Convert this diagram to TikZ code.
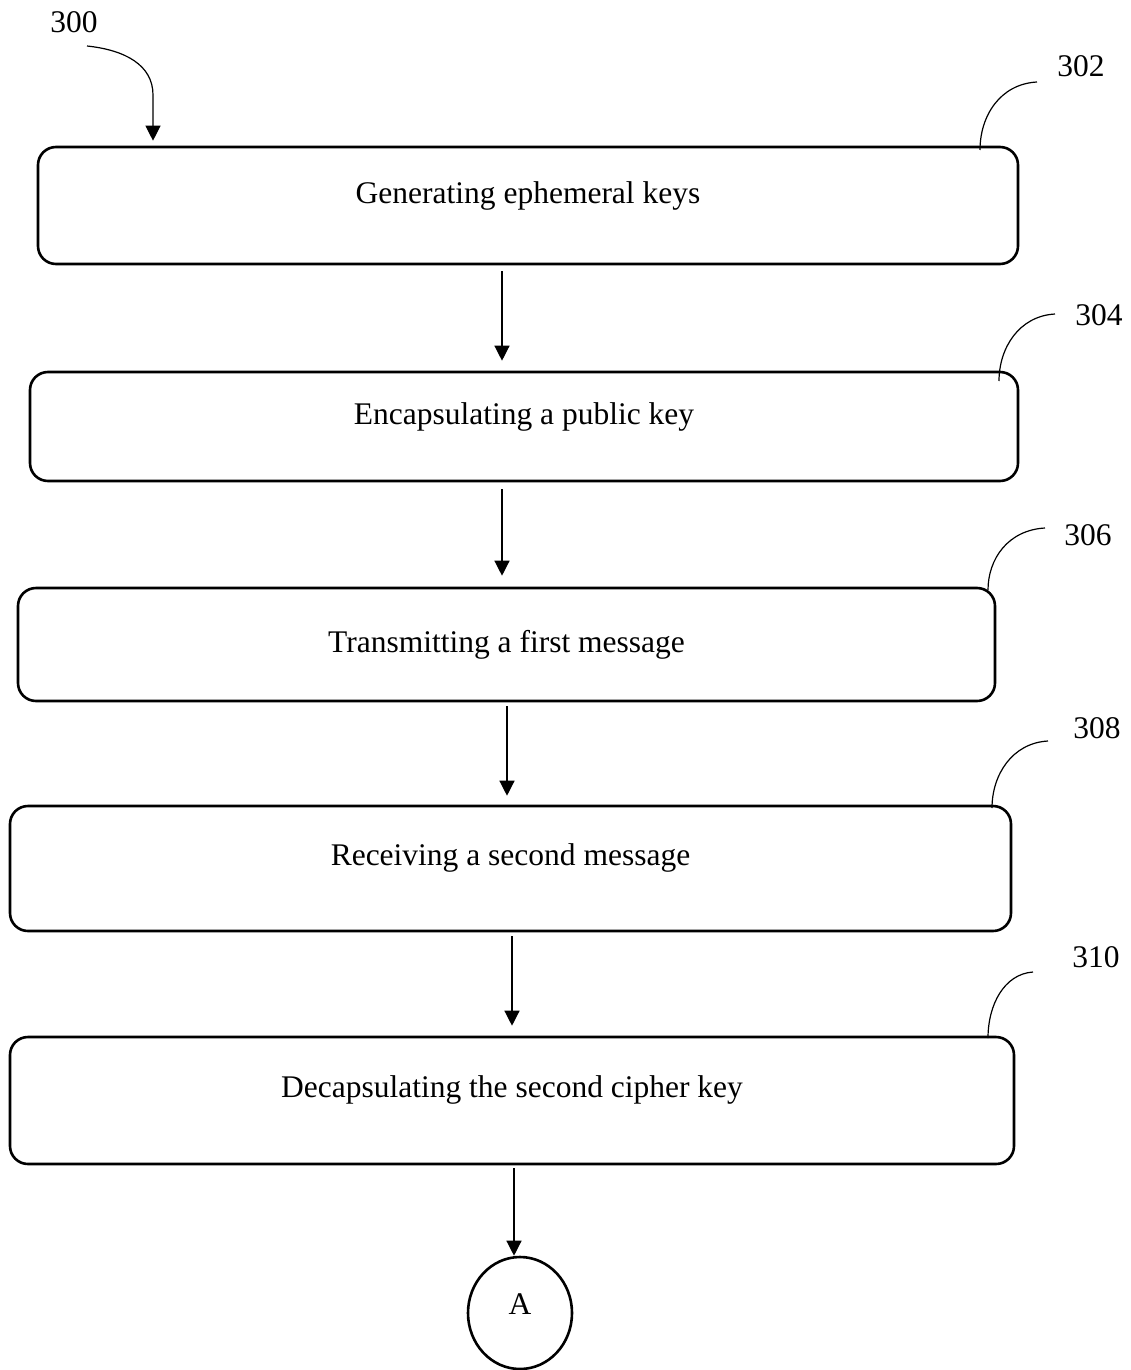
\documentclass[tikz,border=0pt]{standalone}
\usepackage{fontspec}
\setmainfont{Liberation Serif}
\usetikzlibrary{arrows.meta,shapes.geometric}
\begin{document}
\begin{tikzpicture}[x=1pt,y=-1pt,
  font=\fontsize{31.5}{38}\selectfont,
  stepbox/.style={draw,line width=2.6pt,rounded corners=18pt,inner sep=0pt,anchor=center},
  conn/.style={line width=1.3pt,-{Triangle[width=15pt,length=15pt]}},
  leader/.style={line width=1.2pt},
  reflabel/.style={anchor=base,inner sep=0pt}]
\useasboundingbox (0,0) rectangle (1130,1370);

% boxes
\node[stepbox,minimum width=980pt,text height=56pt,text depth=61pt] (b302) at (528,205.5) {Generating ephemeral keys};
\node[stepbox,minimum width=988pt,text height=52pt,text depth=57pt] (b304) at (524,426.5) {Encapsulating a public key};
\node[stepbox,minimum width=977pt,text height=64pt,text depth=49pt] (b306) at (506.5,644.5) {Transmitting a first message};
\node[stepbox,minimum width=1001pt,text height=59pt,text depth=66pt] (b308) at (510.5,868.5) {Receiving a second message};
\node[stepbox,minimum width=1004pt,text height=60pt,text depth=67pt] (b310) at (512,1100.5) {Decapsulating the second cipher key};
\node[draw,ellipse,line width=2.6pt,minimum width=104pt,minimum height=112pt,inner sep=0pt,text depth=17pt] (cA) at (520,1313) {A};

% connectors
\draw[conn,shorten <=6pt,shorten >=10pt] ([xshift=-26pt]b302.south) -- ([xshift=-22pt]b304.north);
\draw[conn,shorten <=7pt,shorten >=11pt] ([xshift=-22pt]b304.south) -- ([xshift=-4.5pt]b306.north);
\draw[conn,shorten <=4pt,shorten >=9pt] ([xshift=0.5pt]b306.south) -- ([xshift=-3.5pt]b308.north);
\draw[conn,shorten <=4pt,shorten >=10pt] ([xshift=1.5pt]b308.south) -- ([xshift=0pt]b310.north);
\draw[conn,shorten <=3pt,shorten >=0pt] ([xshift=2pt]b310.south) -- ([xshift=-6pt]cA.north);

% reference labels
\node[reflabel] (l300) at (74,33) {300};
\node[reflabel] (l302) at (1081,77) {302};
\node[reflabel] (l304) at (1099,325) {304};
\node[reflabel] (l306) at (1088,545) {306};
\node[reflabel] (l308) at (1097,738) {308};
\node[reflabel] (l310) at (1096,967) {310};

% leader lines
\coordinate (s300) at (87,46);
\coordinate (k300) at (153,95);
\draw[conn,line width=1.2pt,shorten >=5pt] (s300) .. controls (125,50) and (153,65) .. (k300) -- ([xshift=-375pt]b302.north);
\coordinate (s302) at (1037,82);   \coordinate (e302) at (980,150);
\coordinate (s304) at (1055,314);  \coordinate (e304) at (999,381);
\coordinate (s306) at (1045,528);  \coordinate (e306) at (988,590);
\coordinate (s308) at (1048,741);  \coordinate (e308) at (992,808);
\coordinate (s310) at (1033,972);  \coordinate (e310) at (988,1038);
\draw[leader] (s302) .. controls +(-37,2) and +(0,-34) .. (e302);
\draw[leader] (s304) .. controls +(-36,2) and +(0,-33) .. (e304);
\draw[leader] (s306) .. controls +(-37,2) and +(0,-31) .. (e306);
\draw[leader] (s308) .. controls +(-36,2) and +(0,-33) .. (e308);
\draw[leader] (s310) .. controls +(-29,2) and +(0,-33) .. (e310);
\end{tikzpicture}
\end{document}
